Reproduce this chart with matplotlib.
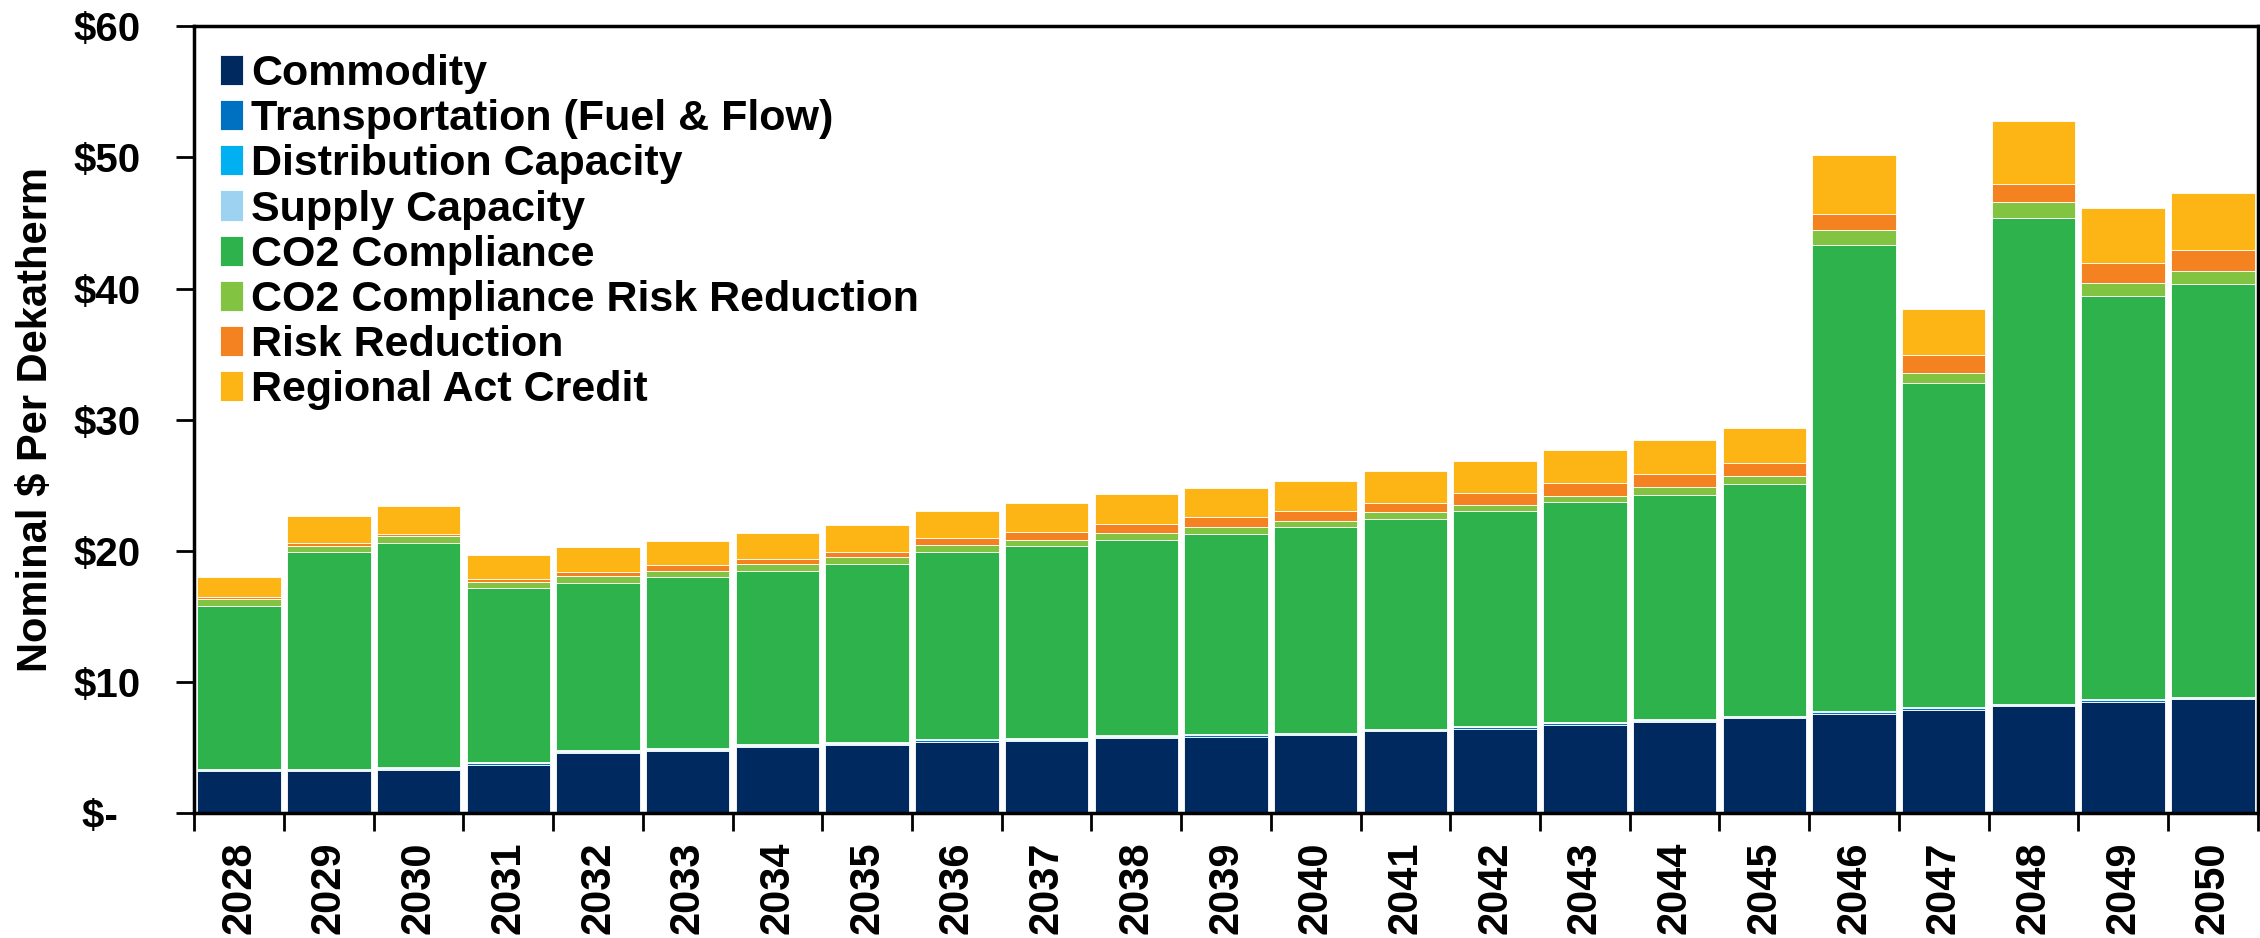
import matplotlib
matplotlib.use("Agg")
import matplotlib.pyplot as plt
import numpy as np

plt.rcParams['font.family'] = ['Liberation Sans', 'DejaVu Sans']
plt.rcParams['font.weight'] = 'bold'
plt.rcParams['axes.labelweight'] = 'bold'

years = [str(y) for y in range(2028, 2051)]

# $ per dekatherm
commodity = [3.2, 3.2, 3.3, 3.7, 4.6, 4.75, 5.05, 5.2, 5.45, 5.5, 5.75, 5.85,
             5.95, 6.25, 6.45, 6.75, 6.95, 7.25, 7.6, 7.9, 8.15, 8.5, 8.7]
transport = [0.1, 0.1, 0.1, 0.1, 0.1, 0.1, 0.1, 0.1, 0.1, 0.1, 0.1, 0.1,
             0.1, 0.1, 0.1, 0.1, 0.1, 0.1, 0.1, 0.1, 0.1, 0.1, 0.1]
distribution = [0.06, 0.06, 0.06, 0.06, 0.06, 0.06, 0.06, 0.06, 0.06, 0.06, 0.06, 0.06,
                0.06, 0.06, 0.06, 0.06, 0.06, 0.06, 0.06, 0.06, 0.06, 0.06, 0.06]
supply = [0.04, 0.04, 0.04, 0.04, 0.04, 0.04, 0.04, 0.04, 0.04, 0.04, 0.04, 0.04,
          0.04, 0.04, 0.04, 0.04, 0.04, 0.04, 0.04, 0.04, 0.04, 0.04, 0.04]
co2 = [12.4, 16.5, 17.1, 13.25, 12.75, 13.05, 13.25, 13.6, 14.25, 14.7, 14.9, 15.25,
       15.65, 16.0, 16.4, 16.75, 17.15, 17.65, 35.5, 24.7, 37.05, 30.7, 31.45]
co2_risk = [0.5, 0.5, 0.5, 0.5, 0.5, 0.5, 0.52, 0.5, 0.52, 0.45, 0.48, 0.56,
            0.45, 0.51, 0.45, 0.48, 0.6, 0.6, 1.2, 0.76, 1.2, 1.0, 1.0]
risk = [0.18, 0.2, 0.2, 0.2, 0.38, 0.41, 0.35, 0.41, 0.58, 0.58, 0.73, 0.71,
        0.82, 0.68, 0.9, 1.0, 1.0, 1.0, 1.2, 1.4, 1.38, 1.52, 1.6]
regional = [1.55, 2.07, 2.15, 1.84, 1.87, 1.84, 1.97, 2.05, 2.03, 2.19, 2.25, 2.24,
            2.24, 2.46, 2.49, 2.48, 2.56, 2.65, 4.49, 3.52, 4.78, 4.24, 4.32]

series = [
    ('Commodity', commodity, '#002960'),
    ('Transportation (Fuel & Flow)', transport, '#0070C0'),
    ('Distribution Capacity', distribution, '#00B0F0'),
    ('Supply Capacity', supply, '#9DD3F0'),
    ('CO2 Compliance', co2, '#2EB24B'),
    ('CO2 Compliance Risk Reduction', co2_risk, '#82C341'),
    ('Risk Reduction', risk, '#F58220'),
    ('Regional Act Credit', regional, '#FDB515'),
]

fig = plt.figure(figsize=(22.6, 9.38), dpi=100)
ax = fig.add_axes([0.086, 0.133, 0.913, 0.839])

x = np.arange(len(years))
bottom = np.zeros(len(years))
for name, vals, col in series:
    ax.bar(x, vals, bottom=bottom, width=0.93, color=col, label=name,
           edgecolor='white', linewidth=0.6)
    bottom += np.array(vals)

ax.set_xlim(-0.5, len(years) - 0.5)
ax.set_ylim(0, 60)
ax.set_yticks(range(0, 61, 10))
ax.set_yticklabels(['$-  '] + ['$%d' % v for v in range(10, 61, 10)], fontsize=29)
ax.set_xticks(x)
ax.set_xticklabels(years, rotation=90, fontsize=30)
ax.set_xticks(np.arange(-0.5, len(years)), minor=True)
ax.tick_params(axis='x', which='major', length=0, pad=20)
ax.tick_params(axis='x', which='minor', length=13, width=2, direction='out')
ax.tick_params(axis='y', length=13, width=2, direction='out', pad=26)
for s in ax.spines.values():
    s.set_linewidth(2.5)

ax.set_ylabel('Nominal $ Per Dekatherm', fontsize=30, labelpad=12)

ax.legend(loc='upper left', fontsize=31, frameon=False, handlelength=0.53,
          handleheight=0.7, handletextpad=0.18, labelspacing=0.12,
          borderaxespad=0.3, bbox_to_anchor=(-0.002, 1.003))

fig.savefig('out.png', dpi=100)
